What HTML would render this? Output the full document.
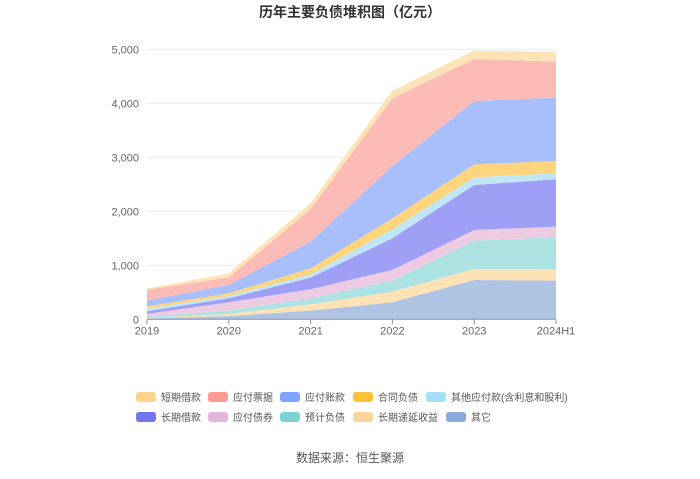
<!DOCTYPE html>
<html><head><meta charset="utf-8"><style>
body{margin:0;background:#fff;font-family:"Liberation Sans","Noto Sans CJK SC",sans-serif}
#wrap{position:relative;width:700px;height:474px}
</style></head><body>
<div id="wrap">
<svg id="svg" width="700" height="474" xmlns="http://www.w3.org/2000/svg">
<text x="350" y="17" text-anchor="middle" font-size="14" font-weight="bold" fill="#333">历年主要负债堆积图（亿元）</text>
<g id="grid"></g><g id="areas"></g><g id="axes"></g><g id="legend"></g>
<text x="350" y="462" text-anchor="middle" font-size="12" fill="#555">数据来源：恒生聚源</text>
</svg></div>
<script>
const categories=["2019","2020","2021","2022","2023","2024H1"];
const seriesNames=["其它","长期递延收益","预计负债","应付债券","长期借款","其他应付款(含利息和股利)","合同负债","应付账款","应付票据","短期借款"];
const other=[15,62,160,315,728,716];
const deferredIncome=[10,37,118,197,204,210];
const provisions=[25,61,111,204,525,593];
const bonds=[50,155,167,198,197,197];
const longLoans=[50,74,216,586,834,877];
const otherPayables=[45,43,61,167,142,111];
const contractLiab=[45,50,111,203,240,228];
const accountsPayable=[110,155,494,970,1173,1173];
const notesPayable=[200,140,599,1253,778,667];
const shortLoans=[20,70,111,142,154,179];
const yTicks=[0,1000,2000,3000,4000,5000];
const series=[other,deferredIncome,provisions,bonds,longLoans,otherPayables,contractLiab,accountsPayable,notesPayable,shortLoans];
const fills=["#afc3e2","#fde2b6","#ace2e2","#eccbe3","#9fa0f5","#c0e6f7","#fdd57c","#a8bffb","#fbbcb7","#fde3b5"];
const legendColors=["#8aa9da","#fdd59a","#7dd3d3","#e4b6dc","#7375ee","#a5ddfb","#fdc234","#7fa2fc","#fc9a93","#fdd28a"];
const NS="http://www.w3.org/2000/svg";
const x0=147,x1=556,yb=319.3,yt=49.3;
const xS=i=>x0+(x1-x0)*i/(categories.length-1);
const yS=v=>yb-(yb-yt)*v/5000;
function mk(t,a,p){const e=document.createElementNS(NS,t);for(const k in a)e.setAttribute(k,a[k]);p.appendChild(e);return e;}
const grid=document.getElementById('grid'),axes=document.getElementById('axes'),areas=document.getElementById('areas'),legend=document.getElementById('legend');
yTicks.forEach(v=>{
 const l=mk('line',{x1:x0,x2:x1,y1:yS(v),y2:yS(v),stroke:'#e6e9f2','stroke-width':1},grid);
 
 
 const t=mk('text',{x:x0-8,y:yS(v)+4,'text-anchor':'end','font-size':11,fill:'#666'},axes);
 t.textContent=v.toLocaleString('en-US');
 
 
});
let cum=categories.map(()=>0);
series.forEach((s,si)=>{
 const lo=cum.slice();const hi=cum.map((c,i)=>c+s[i]);
 let d='';hi.forEach((v,i)=>{d+=(i?'L':'M')+xS(i)+','+yS(v);});
 for(let i=lo.length-1;i>=0;i--)d+='L'+xS(i)+','+yS(lo[i]);
 const p=mk('path',{d:d+'Z',fill:fills[si]},areas);
 
 
 cum=hi;
});
mk('line',{x1:x0,x2:x1,y1:yb,y2:yb,stroke:'#8a94a8'},axes);
categories.forEach((c,i)=>{
 mk('line',{x1:xS(i),x2:xS(i),y1:yb,y2:yb+5,stroke:'#8a94a8'},axes);
 const t=mk('text',{x:xS(i),y:yb+15,'text-anchor':'middle','font-size':11,fill:'#666'},axes);
 t.textContent=c;
 
 
});
const order=[9,8,7,6,5,4,3,2,1,0];
const pos=[[136,397],[208,397],[280,397],[353,397],[426,397],[136,417],[208,417],[280,417],[353,417],[446,417]];
order.forEach((si,k)=>{
 const [lx,ly]=pos[k];
 const g=mk('g',{},legend);
 
 
 mk('rect',{x:lx,y:ly-5,width:20,height:10,rx:3,fill:legendColors[si]},g);
 const t=mk('text',{x:lx+25,y:ly+4,'font-size':10,fill:'#555'},g);
 t.textContent=seriesNames[si];
});
</script>
</body></html>
